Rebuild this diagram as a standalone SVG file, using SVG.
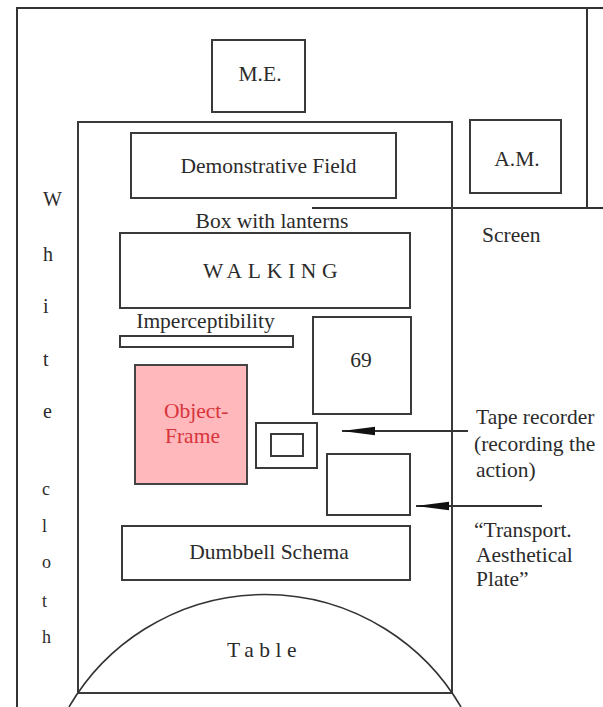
<svg xmlns="http://www.w3.org/2000/svg" width="603" height="707" viewBox="0 0 603 707">
<style>
.box{fill:none;stroke:#3a3a3a;stroke-width:2}
.ln{fill:none;stroke:#333;stroke-width:2}
.t{font-family:"Liberation Serif","Times New Roman",serif;font-size:21.5px;fill:#2b2b2b}
.m{text-anchor:middle}
.v{font-family:"Liberation Serif","Times New Roman",serif;fill:#2b2b2b}
</style>
<defs>
<marker id="ah" markerUnits="userSpaceOnUse" markerWidth="34" markerHeight="10" viewBox="0 0 34 10" refX="33" refY="5" orient="auto">
<path d="M0,0.8 L33,5 L0,9.2 Z" fill="#111"/>
</marker>
</defs>
<rect width="603" height="707" fill="#fff"/>
<g id="frame">
<path class="ln" d="M17,707 V8 H603" stroke-width="2.5"/>
<path class="ln" d="M587,8 V208"/>
</g>
<g id="screen">
<line class="ln" x1="312" y1="208" x2="603" y2="208"/>
<text class="t" x="482" y="242">Screen</text>
</g>
<g id="white-cloth">
<text class="v" font-size="20" x="43" y="206">W</text>
<text class="v" font-size="20" x="43" y="261">h</text>
<text class="v" font-size="20" x="43" y="313">i</text>
<text class="v" font-size="20" x="43" y="366">t</text>
<text class="v" font-size="20" x="43" y="418">e</text>
<text class="v" font-size="18" x="42" y="495">c</text>
<text class="v" font-size="18" x="42" y="532">l</text>
<text class="v" font-size="18" x="42" y="568">o</text>
<text class="v" font-size="18" x="42" y="607">t</text>
<text class="v" font-size="18" x="42" y="643">h</text>
</g>
<g id="me">
<rect class="box" x="212" y="40" width="93" height="72"/>
<text class="t m" x="260" y="81">M.E.</text>
</g>
<g id="am">
<rect class="box" x="470" y="120" width="91" height="73"/>
<text class="t m" x="517" y="166">A.M.</text>
</g>
<g id="box-with-lanterns">
<rect class="box" x="78" y="122" width="374" height="571"/>
<text class="t m" x="272" y="228">Box with lanterns</text>
</g>
<g id="demonstrative-field">
<rect class="box" x="131" y="133" width="265" height="65"/>
<text class="t m" x="268.5" y="173">Demonstrative Field</text>
</g>
<g id="walking">
<rect class="box" x="120" y="233" width="290" height="75"/>
<text class="t" x="203" y="278" letter-spacing="5.7">WALKING</text>
</g>
<g id="imperceptibility">
<rect class="box" x="120" y="336" width="173" height="11"/>
<text class="t m" x="205.5" y="328">Imperceptibility</text>
</g>
<g id="n69">
<rect class="box" x="313" y="317" width="98" height="97"/>
<text class="t m" x="361" y="367">69</text>
</g>
<g id="object-frame">
<rect x="135" y="365" width="112" height="119" fill="#ffb8bb" stroke="#444" stroke-width="2"/>
<text class="t" x="164" y="418" fill="#d8343c" style="fill:#d8343c">Object-</text>
<text class="t" x="165" y="443" style="fill:#d8343c">Frame</text>
</g>
<g id="tape-recorder">
<rect class="box" x="256" y="423" width="61" height="45"/>
<rect class="box" x="271" y="434" width="32" height="22"/>
</g>
<g id="plate">
<rect class="box" x="327" y="454" width="83" height="61"/>
</g>
<g id="dumbbell-schema">
<rect class="box" x="122" y="526" width="288" height="54"/>
<text class="t m" x="269" y="559">Dumbbell Schema</text>
</g>
<g id="table">
<path d="M69,707 A227,227 0 0 1 461,707" fill="none" stroke="#333" stroke-width="1.6"/>
<text class="t" x="227" y="657" letter-spacing="5.5">Table</text>
</g>
<g id="labels">
<text class="t" x="476" y="424">Tape recorder</text>
<text class="t" x="474" y="451">(recording the</text>
<text class="t" x="476" y="477">action)</text>
<text class="t" x="474" y="537">“Transport.</text>
<text class="t" x="476" y="562">Aesthetical</text>
<text class="t" x="476" y="586">Plate”</text>
</g>
<g id="connectors">
<line class="ln" x1="468" y1="431" x2="342" y2="431" marker-end="url(#ah)"/>
<line class="ln" x1="542" y1="506" x2="416" y2="506" marker-end="url(#ah)"/>
</g>
</svg>
